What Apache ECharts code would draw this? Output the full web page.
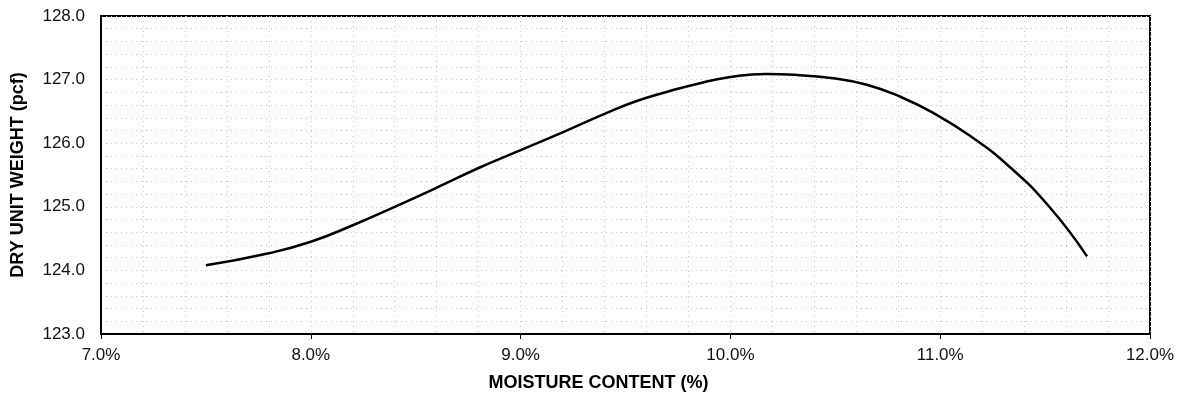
<!DOCTYPE html>
<html>
<head>
<meta charset="utf-8">
<script src="https://cdn.jsdelivr.net/npm/echarts@6/dist/echarts.min.js"></script>
<style>
  html, body { margin: 0; padding: 0; background: #fff; }
  #chart { width: 1185px; height: 402px; }
</style>
</head>
<body>
<div id="chart"></div>
<script>
// moisture content (%) vs dry unit weight (pcf)
const moisture = [7.5, 7.8, 8.0, 8.2, 8.4, 8.6, 8.8, 9.0, 9.2, 9.4, 9.55, 9.7, 9.85, 10.0, 10.17, 10.33, 10.49, 10.65, 10.81, 10.97, 11.14, 11.33, 11.52, 11.7]
const dryWeight = [124.08, 124.27, 124.45, 124.71, 125.0, 125.3, 125.61, 125.89, 126.17, 126.46, 126.66, 126.81, 126.94, 127.04, 127.09, 127.07, 127.02, 126.92, 126.73, 126.47, 126.12, 125.63, 125.0, 124.22]

const xRange = [7, 12]
const yRange = [123, 128]

const chart = echarts.init(document.getElementById('chart'))

const gridDots = { show: true, lineStyle: { color: '#c8c8c8', width: 1, type: [1, 4] } }

chart.setOption({
  animation: false,
  grid: {
    left: 101,
    right: 35,
    top: 16,
    bottom: 68,
    outerBoundsMode: 'none',
    containLabel: false,
    show: true,
    borderColor: '#000',
    borderWidth: 2
  },
  xAxis: {
    type: 'value',
    min: xRange[0],
    max: xRange[1],
    interval: 1,
    name: 'MOISTURE CONTENT (%)',
    nameLocation: 'middle',
    nameGap: 40,
    nameTextStyle: {
      fontFamily: 'Liberation Sans',
      fontWeight: 'bold',
      fontSize: 18,
      color: '#000',
      padding: [0, 54, 0, 0]
    },
    axisLine: { show: true, lineStyle: { color: '#000', width: 2 } },
    axisTick: { show: true, length: 5, lineStyle: { color: '#000' } },
    axisLabel: {
      margin: 13,
      fontFamily: 'Liberation Sans',
      fontSize: 17,
      color: '#111',
      formatter: v => v.toFixed(1) + '%'
    },
    splitLine: gridDots,
    minorTick: { show: false, splitNumber: 5 },
    minorSplitLine: gridDots
  },
  yAxis: {
    type: 'value',
    min: yRange[0],
    max: yRange[1],
    interval: 1,
    name: 'DRY UNIT WEIGHT (pcf)',
    nameLocation: 'middle',
    nameGap: 74,
    nameTextStyle: {
      fontFamily: 'Liberation Sans',
      fontWeight: 'bold',
      fontSize: 18,
      color: '#000'
    },
    axisLine: { show: true, lineStyle: { color: '#000', width: 2 } },
    axisTick: { show: false },
    axisLabel: {
      margin: 16,
      fontFamily: 'Liberation Sans',
      fontSize: 17,
      color: '#111',
      formatter: v => v.toFixed(1)
    },
    splitLine: gridDots,
    minorTick: { show: false, splitNumber: 5 },
    minorSplitLine: gridDots
  },
  series: [
    {
      type: 'line',
      data: moisture.map((m, i) => [m, dryWeight[i]]),
      smooth: 0.5,
      showSymbol: false,
      lineStyle: { color: '#000', width: 2.5 }
    }
  ]
})
</script>
</body>
</html>
